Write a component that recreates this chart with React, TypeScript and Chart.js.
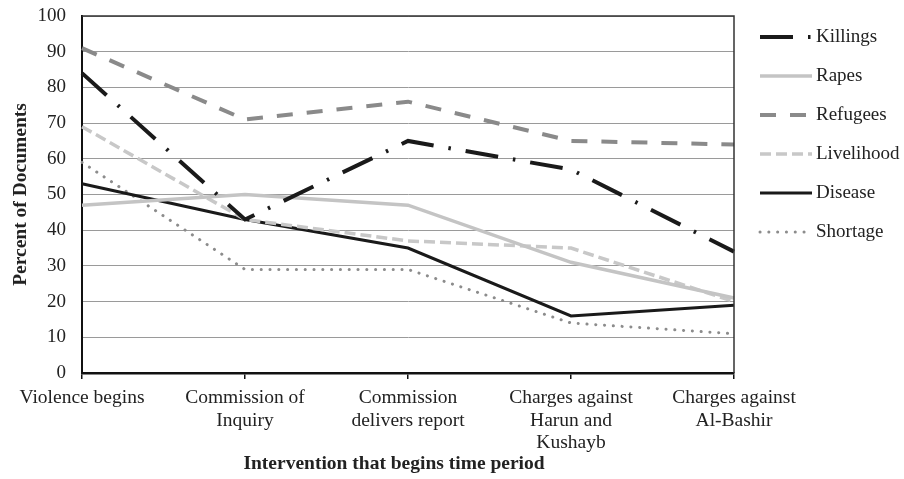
import React, { useEffect, useRef } from "react";
import { Chart, registerables } from "chart.js";
Chart.register(...registerables);

const categories: string[][] = [
  ["Violence begins"],
  ["Commission of", "Inquiry"],
  ["Commission", "delivers report"],
  ["Charges against", "Harun and", "Kushayb"],
  ["Charges against", "Al-Bashir"],
];
const killings = [84, 43, 65, 57, 34];
const rapes = [47, 50, 47, 31, 21];
const refugees = [91, 71, 76, 65, 64];
const livelihood = [69, 43, 37, 35, 20];
const disease = [53, 43, 35, 16, 19];
const shortage = [59, 29, 29, 14, 11];
const yTicks = [0, 10, 20, 30, 40, 50, 60, 70, 80, 90, 100];
const xTitle = "Intervention that begins time period";
const yTitle = "Percent of Documents";

const FONT = '"Liberation Serif", "Times New Roman", serif';
const TEXT = "#222";

const boxPlugin = {
  id: "boxPlugin",
  afterDraw(chart: any) {
    const { ctx, chartArea } = chart;
    ctx.save();
    ctx.strokeStyle = "#333";
    ctx.lineWidth = 1.5;
    ctx.beginPath();
    ctx.moveTo(chartArea.left, chartArea.top);
    ctx.lineTo(chartArea.right, chartArea.top);
    ctx.lineTo(chartArea.right, chartArea.bottom);
    ctx.stroke();
    // x-axis title
    ctx.fillStyle = TEXT;
    ctx.font = `bold 19.5px ${FONT}`;
    ctx.textAlign = "center";
    ctx.textBaseline = "alphabetic";
    ctx.fillText(xTitle, 394, 469);
    ctx.restore();
  },
};

const legendPlugin = {
  id: "customLegend",
  afterDraw(chart: any) {
    const { ctx } = chart;
    const x0 = 760;
    const x1 = 812;
    const y0 = 37;
    const step = 39;
    chart.data.datasets.forEach((ds: any, i: number) => {
      const y = y0 + i * step;
      ctx.save();
      ctx.strokeStyle = ds.borderColor;
      ctx.lineWidth = ds.borderWidth;
      ctx.lineCap = ds.borderCapStyle || "butt";
      ctx.setLineDash(ds.borderDash || []);
      ctx.beginPath();
      ctx.moveTo(x0, y);
      ctx.lineTo(x1, y);
      ctx.stroke();
      ctx.setLineDash([]);
      ctx.fillStyle = TEXT;
      ctx.font = `19px ${FONT}`;
      ctx.textBaseline = "middle";
      ctx.textAlign = "left";
      ctx.fillText(ds.label, 816, y);
      ctx.restore();
    });
  },
};

export default function App() {
  const ref = useRef<HTMLCanvasElement>(null);
  useEffect(() => {
    const chart = new Chart(ref.current!, {
      type: "line",
      data: {
        labels: categories as any,
        datasets: [
          {
            label: "Killings",
            data: killings,
            borderColor: "#1a1a1a",
            borderWidth: 4,
            borderDash: [33, 15, 2.5, 15],
            borderCapStyle: "butt",
          },
          {
            label: "Rapes",
            data: rapes,
            borderColor: "#c4c4c4",
            borderWidth: 3.5,
          },
          {
            label: "Refugees",
            data: refugees,
            borderColor: "#8a8a8a",
            borderWidth: 4,
            borderDash: [16, 14],
          },
          {
            label: "Livelihood",
            data: livelihood,
            borderColor: "#c8c8c8",
            borderWidth: 3.5,
            borderDash: [11, 5],
          },
          {
            label: "Disease",
            data: disease,
            borderColor: "#1a1a1a",
            borderWidth: 3,
          },
          {
            label: "Shortage",
            data: shortage,
            borderColor: "#8c8c8c",
            borderWidth: 3,
            borderDash: [0.1, 8.7],
            borderCapStyle: "round",
          },
        ].map((d) => ({ ...d, pointRadius: 0, tension: 0, fill: false })) as any,
      },
      options: {
        responsive: false,
        animation: false,
        devicePixelRatio: 1,
        layout: { padding: { left: 0, right: 170, top: 16, bottom: 0 } },
        plugins: {
          legend: { display: false },
          tooltip: { enabled: false },
        },
        scales: {
          x: {
            offset: false,
            grid: {
              display: true,
              drawOnChartArea: false,
              drawTicks: true,
              tickLength: 6,
              color: "#111",
              lineWidth: 1.5,
            },
            border: { display: true, color: "#111", width: 2.5 },
            ticks: {
              autoSkip: false,
              maxRotation: 0,
              minRotation: 0,
              padding: 8,
              color: TEXT,
              font: { family: FONT, size: 19.5, lineHeight: 22.5 / 19.5 },
            },
            title: { display: false, text: xTitle },
            afterFit(scale: any) {
              scale.height = 106;
            },
          },
          y: {
            min: 0,
            max: 100,
            afterBuildTicks(scale: any) {
              scale.ticks = yTicks.map((v) => ({ value: v }));
            },
            grid: {
              color: "#9a9a9a",
              lineWidth: 1,
              drawTicks: false,
            },
            border: { display: true, color: "#111", width: 2 },
            ticks: {
              padding: 16,
              color: TEXT,
              font: { family: FONT, size: 19 },
            },
            title: {
              display: true,
              text: yTitle,
              color: TEXT,
              font: { family: FONT, size: 19.5, weight: "bold" },
              padding: { top: 9, bottom: 0 },
            },
            afterFit(scale: any) {
              scale.width = 82;
              scale.paddingTop = 0;
              scale.paddingBottom = 0;
            },
          },
        },
      },
      plugins: [boxPlugin, legendPlugin],
    });
    return () => chart.destroy();
  }, []);
  return (
    <div style={{ position: "absolute", left: 0, top: 0, width: 904, height: 479, background: "#fff" }}>
      <canvas ref={ref} width={904} height={479} style={{ display: "block" }} />
    </div>
  );
}
